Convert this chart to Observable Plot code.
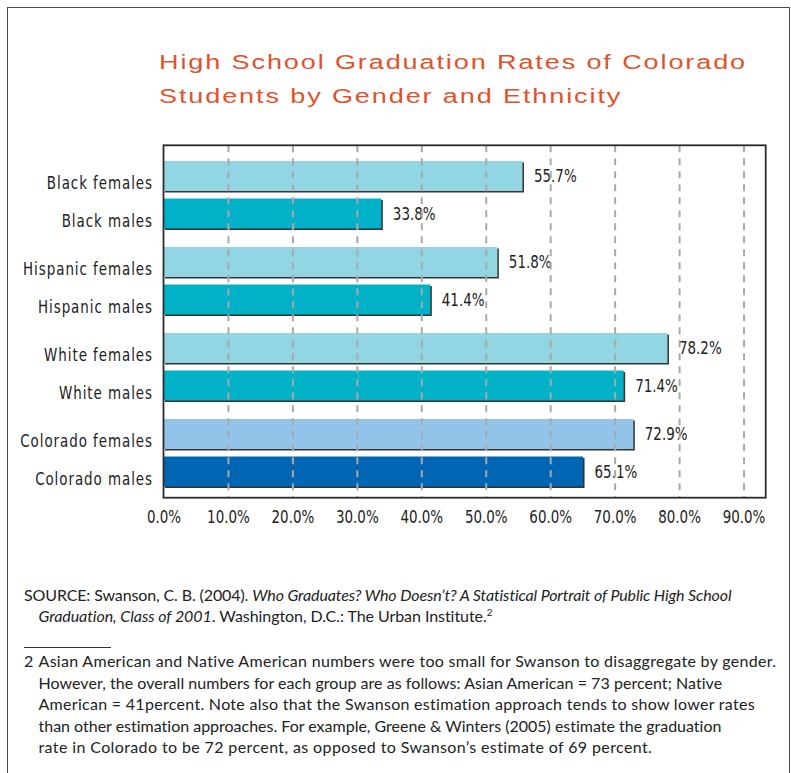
<!DOCTYPE html>
<html>
<head>
<meta charset="utf-8">
<script src="https://cdn.jsdelivr.net/npm/d3@7"></script>
<script src="https://cdn.jsdelivr.net/npm/@observablehq/plot@0.6"></script>
<style>
html, body { margin: 0; padding: 0; background: #fff; }
body { width: 791px; height: 773px; position: relative; overflow: hidden; }
#box { position: absolute; left: 7px; top: 7px; width: 783px; height: 820px; border: 1.5px solid #4a4a4a; box-sizing: border-box; }
.ln { position: absolute; white-space: nowrap; line-height: 20px; }
.ttl { color: #e0532a; font-family: "Liberation Sans", Arial, sans-serif; font-size: 20px; letter-spacing: 1.4px; transform-origin: 0 50%; }
.note { font-family: Lato, "Open Sans", sans-serif; font-size: 16px; color: #222; }
.note sup { font-size: 10px; vertical-align: 6px; line-height: 0; font-style: normal; }
#chart { position: absolute; left: 0; top: 130px; }
#chart svg { font-family: "Liberation Sans Narrow", "Arial Narrow", "DejaVu Sans Condensed", sans-serif; }
#sep { position: absolute; left: 24px; top: 647px; width: 87px; height: 0; border-top: 1px solid #333; }
.mk { display: inline-block; width: 0; height: 0; }
</style>
</head>
<body>
<div id="box"></div>
<div class="ln" id="title1" data-base="68.5" data-left="159"><span class="ttl">High School Graduation Rates of Colorado</span></div>
<div class="ln" id="title2" data-base="103.3" data-left="159"><span class="ttl">Students by Gender and Ethnicity</span></div>
<div id="chart"></div>
<div class="ln note" data-base="601" data-left="24" data-w="707"><span class="t">SOURCE: Swanson, C. B. (2004). <i>Who Graduates? Who Doesn’t? A Statistical Portrait of Public High School</i></span></div>
<div class="ln note" data-base="622" data-left="38.5" data-w="454"><span class="t"><i>Graduation, Class of 2001</i>. Washington, D.C.: The Urban Institute.<sup>2</sup></span></div>
<div id="sep"></div>
<div class="ln note" data-base="667" data-left="24"><span class="t">2</span></div>
<div class="ln note" data-base="667" data-left="38.5" data-w="738"><span class="t">Asian American and Native American numbers were too small for Swanson to disaggregate by gender.</span></div>
<div class="ln note" data-base="688.5" data-left="38.5" data-w="684"><span class="t">However, the overall numbers for each group are as follows:  Asian American = 73 percent; Native</span></div>
<div class="ln note" data-base="710" data-left="38.5" data-w="717"><span class="t">American = 41percent. Note also that the Swanson estimation approach tends to show lower rates</span></div>
<div class="ln note" data-base="731.5" data-left="38.5" data-w="684"><span class="t">than other estimation approaches. For example, Greene &amp; Winters (2005) estimate the graduation</span></div>
<div class="ln note" data-base="753" data-left="38.5" data-w="614"><span class="t">rate in Colorado to be 72 percent, as opposed to Swanson’s estimate of 69 percent.</span></div>
<script>
// ---- data ----
const groups = ["Black", "Hispanic", "White", "Colorado"];
const genders = ["females", "males"];
const labels = ["Black females", "Black males", "Hispanic females", "Hispanic males",
                "White females", "White males", "Colorado females", "Colorado males"];
const values = [55.7, 33.8, 51.8, 41.4, 78.2, 71.4, 72.9, 65.1];
const colors = ["#92d5e3", "#00b1c7", "#92d5e3", "#00b1c7", "#92d5e3", "#00b1c7", "#92c4e9", "#0065b2"];
const ticks = [0, 10, 20, 30, 40, 50, 60, 70, 80, 90];

const data = labels.map((label, i) => ({
  label, value: values[i], color: colors[i],
  group: groups[Math.floor(i / 2)], gender: genders[i % 2]
}));
const pct = d => d.toFixed(1) + "%";

// ---- layout ----
const W = 791, H = 400, mL = 163.5, mR = 25.3;
const frameTop = 15.3, frameBottom = H - 32.3;     // outer frame of the plot area
const mT = 31, mB = 43.5;                          // extent of the bar groups
const last = groups[groups.length - 1];
const gridData = ticks.slice(1).map(t => ({t, fy: last}));
const tickData = ticks.map(t => ({t, fy: last}));

function build(up, down) {
  return Plot.plot({
    width: W, height: H,
    marginTop: mT, marginBottom: mB, marginLeft: mL, marginRight: mR,
    x: {domain: [0, 93.44], axis: null},
    y: {type: "band", domain: genders, axis: null, paddingInner: 0.2, paddingOuter: 0, round: false},
    fy: {type: "band", domain: groups, axis: null, paddingInner: 0.2151, paddingOuter: 0, round: false},
    color: {type: "identity"},
    marks: [
      Plot.barX(data, {fy: "group", y: "gender", x: "value", fill: "#333", dx: 1.5, dy: 1.5}),
      Plot.barX(data, {fy: "group", y: "gender", x: "value", fill: "color"}),
      Plot.text(data, {fy: "group", y: "gender", x: "value", text: d => pct(d.value), textAnchor: "start", dx: 11, fontSize: 18, fill: "#222"}),
      Plot.text(data, {fy: "group", y: "gender", text: "label", frameAnchor: "left", textAnchor: "end", dx: -11, dy: 7, fontSize: 18, fill: "#222"}),
      Plot.ruleX(gridData, {x: "t", fy: "fy", stroke: "#a9a9a9", strokeWidth: 2, strokeDasharray: "7,6",
        insetTop: -up, insetBottom: -down}),
      Plot.text(tickData, {x: "t", fy: "fy", text: d => pct(d.t), frameAnchor: "bottom", lineAnchor: "top",
        dy: down + 12.5, fontSize: 18, fill: "#222"}),
      Plot.rect([{fy: last}], {fy: "fy", fill: "none", stroke: "#2b2b2b", strokeWidth: 1.8,
        insetTop: -up, insetBottom: -down})
    ]
  });
}
// first pass: read where Plot put the last facet, then extend the frame/grid to the outer plot area
const probe = build(0, 0);
const fy = probe.scale("fy");
let top0, bw;
if (fy && fy.apply) { top0 = fy.apply(last); bw = fy.bandwidth; }
else {
  const b = d3.scaleBand().domain(groups).range([mT, H - mB]).paddingInner(0.2151).paddingOuter(0);
  top0 = b(last); bw = b.bandwidth();
}
const chart = build(top0 - frameTop, frameBottom - (top0 + bw));
document.getElementById("chart").appendChild(chart);

// the original uses a condensed face: fit "55.7%" to its width (~43px), then widen row labels by spacing
try {
  const texts = Array.from(chart.querySelectorAll("text"));
  const ref = texts.find(t => t.textContent === pct(values[0]));
  const rowTexts = texts.filter(t => labels.includes(t.textContent));
  const cond = ref ? Math.max(0.7, Math.min(1, 42.7 / ref.getBBox().width)) : 1;
  const hisp = rowTexts.find(t => t.textContent === labels[2]);
  if (hisp) {
    const lsRow = (130 / cond - hisp.getBBox().width) / labels[2].length;
    rowTexts.forEach(t => t.style.letterSpacing = lsRow + "px");
  }
  if (cond !== 1) texts.forEach(t => {
    const tr = t.getAttribute("transform");
    if (tr) t.setAttribute("transform", tr + ` scale(${cond},1)`);
  });
} catch (e) { console.warn(e); }

// ---- layout of the html text lines: baseline & width fitting ----
document.querySelectorAll(".ln").forEach(el => {
  el.style.left = el.dataset.left + "px";
  el.style.top = "0px";
  const mk = document.createElement("span");
  mk.className = "mk";
  el.insertBefore(mk, el.firstChild);
  const off = mk.getBoundingClientRect().top - el.getBoundingClientRect().top;
  el.style.top = (+el.dataset.base - off) + "px";
  const t = el.querySelector(".t");
  if (t && el.dataset.w) {
    const w = t.getBoundingClientRect().width;
    const n = t.textContent.length;
    t.style.letterSpacing = ((+el.dataset.w - w) / n) + "px";
  }
});
// title: wide face, fit first line to its width and use the same stretch for both lines
const t1 = document.querySelector("#title1 .ttl");
const sx = 588 / t1.getBoundingClientRect().width;
document.querySelectorAll(".ttl").forEach(s => {
  s.style.display = "inline-block";
  s.style.transform = `scaleX(${sx})`;
});
</script>
</body>
</html>
